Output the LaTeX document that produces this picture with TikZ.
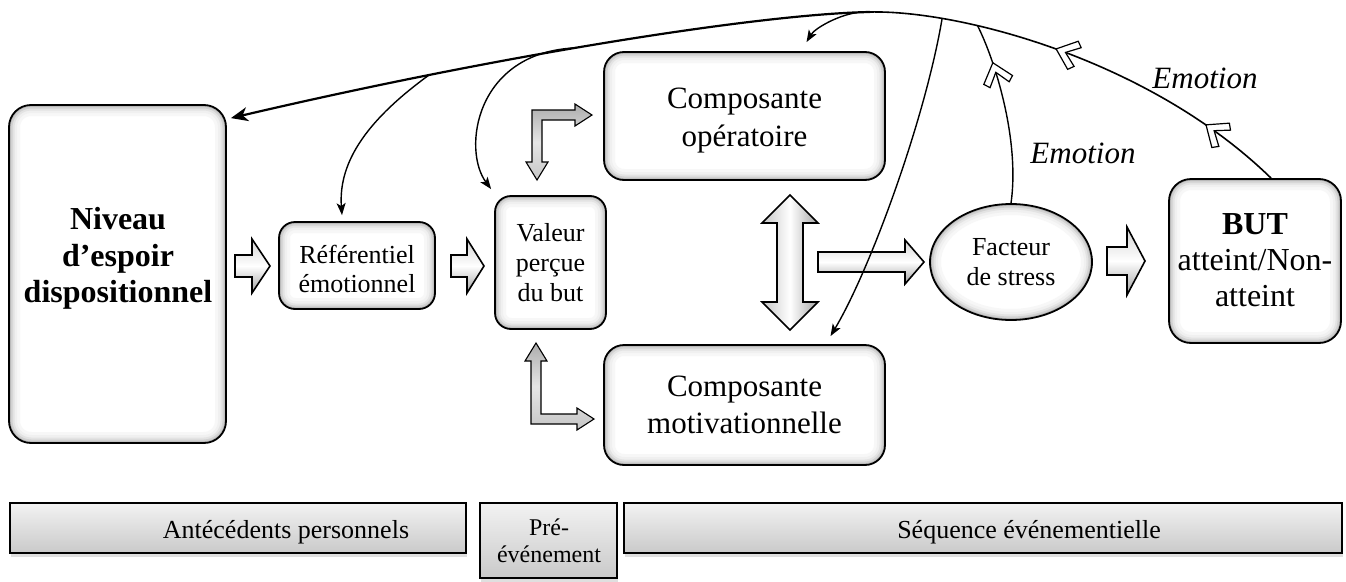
\documentclass[tikz,border=0pt]{standalone}
\usepackage{fontspec}
\setmainfont{Liberation Serif}
\usetikzlibrary{arrows.meta,shadows,decorations.markings,shapes.geometric}
\newcommand{\mychev}{\draw[-, solid, fill=white, line width=1.2pt, line join=miter] (11,0) -- (-7,15) -- (-12,10) -- (1,0) -- (-12,-10) -- (-7,-15) -- cycle;}
\begin{document}
\begin{tikzpicture}[x=1pt,y=-1pt,
  bevelbox/.style={draw=black, line width=1.8pt, fill=white, rounded corners=#1, inner sep=0pt,
    path picture={\foreach \lw/\gr in {22/6,16/12,11/22,7/36,3.5/55}{
        \draw[gray!\gr!white, line width=\lw pt, rounded corners=#1, xshift=-2.5pt, yshift=3pt]
          (path picture bounding box.south west) rectangle (path picture bounding box.north east);}}},
  bevelell/.style={ellipse, draw=black, line width=1.8pt, fill=white, inner sep=0pt,
    path picture={\foreach \lw/\gr in {22/6,16/12,11/22,7/36,3.5/55}{
        \draw[gray!\gr!white, line width=\lw pt, xshift=-2.5pt, yshift=3pt]
          (path picture bounding box.center) ellipse [x radius=81pt, y radius=58pt];}}},
  bar/.style={draw=black, line width=1.6pt, top color=gray!10, bottom color=gray!42, inner sep=0pt,
    drop shadow={shadow xshift=1pt, shadow yshift=-4pt, opacity=0.25}},
  fatH/.style={draw=black, line width=1.6pt, line join=miter, top color=gray!35, bottom color=gray!75, middle color=white},
  fatV/.style={draw=black, line width=1.6pt, line join=miter, left color=gray!45, right color=gray!70, middle color=white},
  fatL/.style={draw=black, line width=1.1pt, line join=miter, top color=gray!65, bottom color=gray!45, middle color=gray!20},
  thick1/.style={line width=2.2pt},
  thin1/.style={line width=1.4pt},
  tip/.style={-{Stealth[length=12pt,width=9pt,inset=3pt]}},
  tbig/.style={align=center, font=\fontsize{31}{37.5}\selectfont, inner sep=0pt},
  tsmall/.style={align=center, font=\fontsize{26}{29.5}\selectfont, inner sep=0pt},
  tbar/.style={align=center, font=\fontsize{26}{29}\selectfont, inner sep=0pt},
  temo/.style={font=\itshape\fontsize{31}{36}\selectfont, inner sep=0pt}
]
\useasboundingbox (0,0) rectangle (1346,581);

% boxes
\node[bevelbox=22pt, minimum width=217pt, minimum height=338pt] (niv) at (117.5,274) {};
\node[bevelbox=16pt, minimum width=156pt, minimum height=87pt] (ref) at (357,265.5) {};
\node[bevelbox=16pt, minimum width=111pt, minimum height=133pt] (val) at (550.5,262.5) {};
\node[bevelbox=20pt, minimum width=281pt, minimum height=128pt] (op) at (744.5,116) {};
\node[bevelbox=20pt, minimum width=281pt, minimum height=120pt] (mot) at (744.5,405) {};
\node[bevelell, minimum width=162pt, minimum height=116pt] (fac) at (1011,262) {};
\node[bevelbox=22pt, minimum width=172pt, minimum height=164pt] (but) at (1255,261) {};

% bars
\node[bar, minimum width=456pt, minimum height=50pt] (bar1) at (238,528) {};
\node[bar, minimum width=137pt, minimum height=75pt] (bar2) at (548.5,540.5) {};
\node[bar, minimum width=718pt, minimum height=50pt] (bar3) at (983,528) {};

% fat arrows
\draw[fatH] (235,255) -- (252,255) -- (252,239) -- (270,266) -- (252,293) -- (252,277) -- (235,277) -- cycle;
\draw[fatH] (451,255) -- (467,255) -- (467,239) -- (484,266) -- (467,293) -- (467,277) -- (451,277) -- cycle;
\draw[fatH] (1107,247) -- (1127,247) -- (1127,227) -- (1145,261) -- (1127,295) -- (1127,275) -- (1107,275) -- cycle;
\draw[fatH] (818,252) -- (905,252) -- (905,240) -- (924,262) -- (905,284) -- (905,272) -- (818,272) -- cycle;
\draw[fatV] (790,195) -- (818,223) -- (803,223) -- (803,302) -- (818,302) -- (790,330) -- (762,302) -- (777,302) -- (777,223) -- (762,223) -- cycle;
\draw[fatL] (532,110) -- (575,110) -- (575,104) -- (592,115) -- (575,126) -- (575,120) -- (542,120) -- (542,162) -- (548,162) -- (537,180) -- (526,162) -- (532,162) -- cycle;
\draw[fatL] (531,424) -- (531,361) -- (525,361) -- (536,343) -- (547,361) -- (541,361) -- (541,414) -- (577,414) -- (577,408) -- (594,419) -- (577,430) -- (577,424) -- cycle;

% main curve
\coordinate (pk) at (870,12);
\draw[thin1, line width=1.6pt, postaction={decorate}, decoration={markings,
    mark=at position 0.165 with {\mychev},
    mark=at position 0.545 with {\mychev}}]
  ([xshift=16pt]but.north) .. controls (1150,60) and (960,10) .. (pk)
  coordinate[pos=0.69] (j6) coordinate[pos=0.78] (j5);
\draw[thick1, -{Stealth[length=17pt,width=14pt,inset=5pt]}]
  (pk) .. controls (760,14) and (500,55) .. ([xshift=4pt,yshift=-14pt]niv.north east)
  coordinate[pos=0.03] (j4) coordinate[pos=0.55] (j2) coordinate[pos=0.75] (j1);

% branches
\draw[thin1, tip] (j1) .. controls (370,118) and (338,160) .. ([xshift=-15pt,yshift=6pt]ref.north);
\draw[thin1, tip] (j2) .. controls (475,52) and (462,150) .. ([xshift=-3pt,yshift=6pt]val.north west);
\draw[thin1, tip] (j4) .. controls (840,14) and (815,28) .. ([xshift=62pt,yshift=9pt]op.north);
\draw[thin1, tip] (j5) .. controls (925,120) and (870,270) .. ([xshift=86pt,yshift=8pt]mot.north);
\draw[thin1, postaction={decorate}, decoration={markings, mark=at position 0.72 with {\mychev}}]
  (fac.north) .. controls (1020,140) and (995,60) .. (j6);

% texts
\node[align=center, inner sep=0pt, font=\bfseries\fontsize{32}{36.5}\selectfont] (nivt) at (118,258.5) {Niveau\\d’espoir\\dispositionnel};
\node[tsmall, font=\fontsize{26}{29}\selectfont] (reft) at (357,268.5) {Référentiel\\émotionnel};
\node[tsmall, font=\fontsize{26}{30}\selectfont] (valt) at (550.5,262.4) {Valeur\\perçue\\du but};
\node[tbig, font=\fontsize{31}{38}\selectfont] (opt) at (744.5,121) {Composante\\opératoire};
\node[tbig, font=\fontsize{31}{37}\selectfont] (mott) at (744.5,405) {Composante\\motivationnelle};
\node[tsmall, font=\fontsize{26}{30}\selectfont] (fact) at (1011,262.4) {Facteur\\de stress};
\node[align=center, inner sep=0pt, font=\fontsize{32}{36}\selectfont] (butt) at (1255,260) {\textbf{BUT}\\atteint/Non-\\atteint};
\node[temo] (emo1) at (1083,153) {Emotion};
\node[temo] (emo2) at (1205,78) {Emotion};
\node[tbar] (bar1t) at (286,532) {Antécédents personnels};
\node[tbar, font=\fontsize{24}{27}\selectfont] (bar2t) at (549,541) {Pré-\\événement};
\node[tbar] (bar3t) at (1029,532) {Séquence événementielle};
\end{tikzpicture}
\end{document}
